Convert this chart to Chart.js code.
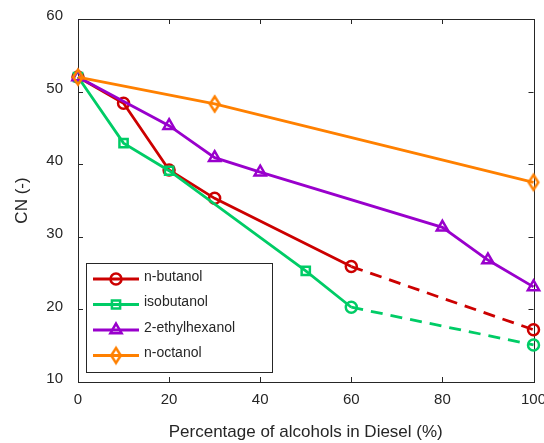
<!DOCTYPE html>
<html>
<head>
<meta charset="utf-8">
<script src="https://cdn.jsdelivr.net/npm/chart.js@4/dist/chart.umd.min.js"></script>
<style>
html,body{margin:0;padding:0;background:#fff;}
#wrap{width:544px;height:443px;position:relative;}
</style>
</head>
<body>
<div id="wrap"><canvas id="c" width="544" height="443"></canvas></div>
<script>
// ---- data ----
const butanolX = [0, 10, 20, 30, 60, 100];
const butanolY = [52, 48.4, 39.2, 35.3, 25.9, 17.2];
const isobutanolX = [0, 10, 20, 50, 60, 100];
const isobutanolY = [52, 42.9, 39.1, 25.3, 20.3, 15.1];
const ethylhexanolX = [0, 20, 30, 40, 80, 90, 100];
const ethylhexanolY = [52, 45.3, 40.9, 38.9, 31.3, 26.8, 23.1];
const octanolX = [0, 30, 100];
const octanolY = [52, 48.3, 37.5];
const seriesNames = ['n-butanol', 'isobutanol', '2-ethylhexanol', 'n-octanol'];
const xTicks = [0, 20, 40, 60, 80, 100];
const yTicks = [10, 20, 30, 40, 50, 60];

const RED = '#cc0000', GREEN = '#00cc66', PURPLE = '#9900cc', ORANGE = '#ff8000';
const AXIS = '#262626';
const FONT = "'Liberation Sans', Arial, sans-serif";

function toPts(xs, ys) { return xs.map((x, i) => ({x: x, y: ys[i]})); }

function diamond(color) {
  const c = document.createElement('canvas');
  c.width = 16; c.height = 22;
  const g = c.getContext('2d');
  g.strokeStyle = color; g.lineWidth = 2.5; g.lineJoin = 'miter';
  g.beginPath();
  g.moveTo(8, 3.5); g.lineTo(12.8, 11); g.lineTo(8, 18.5); g.lineTo(3.2, 11); g.closePath();
  g.stroke();
  return c;
}
const diamondImg = diamond(ORANGE);

const dashAfter60 = { borderDash: ctx => ctx.p0.parsed.x >= 60 ? [12, 8] : undefined };

const datasets = [
  { label: seriesNames[0], data: toPts(butanolX, butanolY), borderColor: RED,
    pointStyle: 'circle', pointRadius: 5.5, segment: dashAfter60, order: 4 },
  { label: seriesNames[1], data: toPts(isobutanolX, isobutanolY), borderColor: GREEN,
    pointStyle: ['rect', 'rect', 'rect', 'rect', 'circle', 'circle'],
    pointRadius: [5.8, 5.8, 5.8, 5.8, 5.5, 5.5], segment: dashAfter60, order: 3 },
  { label: seriesNames[2], data: toPts(ethylhexanolX, ethylhexanolY), borderColor: PURPLE,
    pointStyle: 'triangle', pointRadius: 6.5, order: 2 },
  { label: seriesNames[3], data: toPts(octanolX, octanolY), borderColor: ORANGE,
    pointStyle: diamondImg, pointRadius: 8, order: 1 }
].map(d => Object.assign({
  borderWidth: 2.8, pointBorderColor: d.borderColor, pointBackgroundColor: 'rgba(0,0,0,0)',
  pointBorderWidth: 2.5, pointHoverRadius: 0, tension: 0, clip: false, fill: false
}, d));

const frame = {
  id: 'frame',
  beforeDatasetsDraw(chart) {
    const {ctx, chartArea: a, scales} = chart;
    ctx.save();
    ctx.strokeStyle = AXIS; ctx.lineWidth = 1;
    ctx.strokeRect(Math.round(a.left) + 0.5, Math.round(a.top) + 0.5,
                   Math.round(a.right - a.left), Math.round(a.bottom - a.top));
    const L = 5;
    ctx.beginPath();
    xTicks.forEach(v => {
      const px = Math.round(scales.x.getPixelForValue(v)) + 0.5;
      ctx.moveTo(px, a.bottom); ctx.lineTo(px, a.bottom - L);
      ctx.moveTo(px, a.top); ctx.lineTo(px, a.top + L);
    });
    yTicks.forEach(v => {
      const py = Math.round(scales.y.getPixelForValue(v)) + 0.5;
      ctx.moveTo(a.left, py); ctx.lineTo(a.left + L, py);
      ctx.moveTo(a.right, py); ctx.lineTo(a.right - L, py);
    });
    ctx.stroke();
    ctx.restore();
  },
  afterDraw(chart) {
    const {ctx} = chart;
    const bx = 86.5, by = 263.5, bw = 186, bh = 109;
    ctx.save();
    ctx.fillStyle = '#fff';
    ctx.fillRect(bx, by, bw, bh);
    ctx.strokeStyle = AXIS; ctx.lineWidth = 1;
    ctx.strokeRect(bx, by, bw, bh);
    const rows = [279, 304.5, 330, 355.5];
    chart.data.datasets.forEach((d, i) => {
      const y = rows[i];
      ctx.strokeStyle = d.borderColor; ctx.lineWidth = 2.8; ctx.setLineDash([]);
      ctx.beginPath(); ctx.moveTo(93, y); ctx.lineTo(139, y); ctx.stroke();
      const ps = Array.isArray(d.pointStyle) ? d.pointStyle[0] : d.pointStyle;
      const pr = Array.isArray(d.pointRadius) ? d.pointRadius[0] : d.pointRadius;
      ctx.fillStyle = 'rgba(0,0,0,0)';
      ctx.lineWidth = 2.5;
      Chart.helpers.drawPoint(ctx, {pointStyle: ps, radius: pr, borderWidth: 2.5, rotation: 0}, 116, y);
      ctx.fillStyle = AXIS;
      ctx.font = '14px ' + FONT;
      ctx.textBaseline = 'middle';
      ctx.textAlign = 'left';
      ctx.fillText(d.label, 144, y - 2);
    });
    ctx.restore();
  }
};

new Chart(document.getElementById('c'), {
  type: 'line',
  data: { datasets },
  plugins: [frame],
  options: {
    responsive: false,
    animation: false,
    events: [],
    layout: { padding: { top: 19, right: 7, left: 0, bottom: 0 } },
    plugins: { legend: { display: false }, tooltip: { enabled: false } },
    scales: {
      x: {
        type: 'linear', min: 0, max: 100,
        afterBuildTicks: s => { s.ticks = xTicks.map(v => ({value: v})); },
        afterFit: s => { s.height = 61; s.paddingLeft = 0; s.paddingRight = 0; },
        grid: { display: false, drawTicks: false },
        border: { display: false },
        ticks: { padding: 9, color: AXIS, font: { size: 15, family: FONT } },
        title: { display: true, text: 'Percentage of alcohols in Diesel (%)', color: AXIS,
                 font: { size: 17, family: FONT }, padding: { top: 0, bottom: 0 } }
      },
      y: {
        type: 'linear', min: 10, max: 60,
        afterBuildTicks: s => { s.ticks = yTicks.map(v => ({value: v})); },
        afterFit: s => { s.width = 78; s.paddingTop = 0; s.paddingBottom = 0; },
        grid: { display: false, drawTicks: false },
        border: { display: false },
        ticks: { padding: 15, labelOffset: -3, color: AXIS, font: { size: 15, family: FONT } },
        title: { display: true, text: 'CN (-)', color: AXIS,
                 font: { size: 17, family: FONT }, padding: { top: 12, bottom: 0 } }
      }
    }
  }
});
</script>
</body>
</html>
